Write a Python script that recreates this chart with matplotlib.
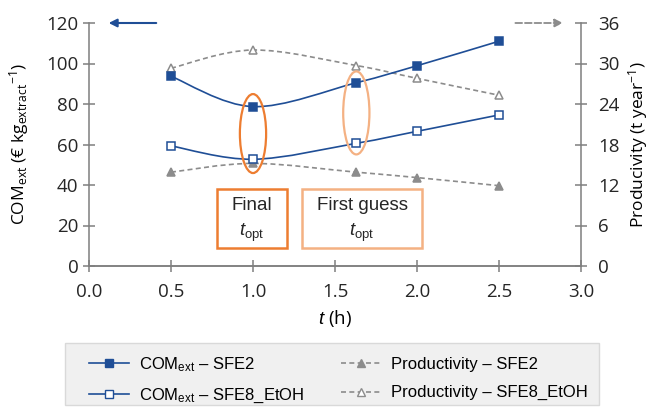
import numpy as np
import matplotlib
matplotlib.use("Agg")
import matplotlib.pyplot as plt
from matplotlib.path import Path
from matplotlib.patches import PathPatch, Ellipse, Rectangle
from matplotlib.lines import Line2D

# --------- Data ---------
t_h = [0.5, 1.0, 1.63, 2.0, 2.5]
com_sfe2 = [93.7, 78.7, 90.5, 98.9, 111.0]
com_sfe8 = [59.3, 52.7, 60.6, 66.5, 74.6]
prod_sfe2 = [13.9, 15.2, 13.9, 13.1, 11.9]
prod_sfe8 = [29.3, 32.0, 29.7, 27.8, 25.3]

final_t = 1.0
guess_t = 1.63

BLUE = "#1f4e96"
GRAY = "#8c8c8c"
AXIS = "#7f7f7f"
ORANGE = "#ed7d31"
LIGHT_ORANGE = "#f4b183"

plt.rcParams["font.family"] = ["Open Sans", "DejaVu Sans"]
plt.rcParams["mathtext.fontset"] = "custom"
plt.rcParams["mathtext.it"] = "Liberation Sans:italic"
plt.rcParams["mathtext.rm"] = "Liberation Sans"


def smooth_path(x, y):
    # Excel-like smoothed line: cubic Bezier through the points
    pts = np.column_stack([x, y])
    ext = np.vstack([pts[0], pts, pts[-1]])
    verts = [pts[0]]
    codes = [Path.MOVETO]
    for i in range(len(pts) - 1):
        p0, p1, p2, p3 = ext[i], ext[i + 1], ext[i + 2], ext[i + 3]
        verts += [p1 + (p2 - p0) / 6, p2 - (p3 - p1) / 6, p2]
        codes += [Path.CURVE4] * 3
    return Path(verts, codes)


def add_series(ax, x, y, color, ls, marker, filled):
    ax.add_patch(PathPatch(smooth_path(x, y), fill=False, edgecolor=color,
                           lw=1.2, ls=ls, zorder=3))
    ax.plot(x, y, ls="none", marker=marker, ms=6, mec=color, mew=1.1,
            mfc=color if filled else "white", zorder=4)


fig = plt.figure(figsize=(6.51, 4.07), dpi=100)
ax = fig.add_axes([89 / 651, 1 - 266 / 407, 492 / 651, 243 / 407])
ax2 = ax.twinx()

dash = (0, (3, 2))
add_series(ax2, t_h, prod_sfe8, GRAY, dash, "^", False)
add_series(ax2, t_h, prod_sfe2, GRAY, dash, "^", True)
add_series(ax, t_h, com_sfe2, BLUE, "-", "s", True)
add_series(ax, t_h, com_sfe8, BLUE, "-", "s", False)

ax.set_xlim(0, 3)
ax.set_ylim(0, 120)
ax2.set_ylim(0, 36)
ax.set_xticks(np.arange(0, 3.01, 0.5))
ax.set_xticklabels([f"{v:.1f}" for v in np.arange(0, 3.01, 0.5)])
ax.set_yticks(np.arange(0, 121, 20))
ax2.set_yticks(np.arange(0, 37, 6))

for a in (ax, ax2):
    a.spines["top"].set_visible(False)
    for s in a.spines.values():
        s.set_color(AXIS)
        s.set_linewidth(1.1)
    a.tick_params(direction="inout", length=9, width=1.1, color=AXIS,
                  labelsize=13.5, labelcolor="#262626")
ax.spines["right"].set_visible(False)
ax.tick_params(axis="y", pad=3)
ax.tick_params(axis="x", pad=8)
ax2.spines["left"].set_visible(False)
ax2.tick_params(axis="y", pad=8)
ax.set_zorder(ax2.get_zorder() + 1)
ax.patch.set_visible(False)

ax.set_xlabel(r"$\mathit{t}$ (h)", fontsize=13.5, labelpad=5)
ax.set_ylabel(r"COM$\mathregular{_{ext}}$ (€ kg$\mathregular{_{extract}{}^{-1}}$)",
              fontsize=12.5)
ax2.set_ylabel(r"Producivity (t year$\mathregular{^{-1}}$)", fontsize=12.5)
ax.yaxis.set_label_coords(-0.117, 0.5)
ax2.yaxis.set_label_coords(1.092, 0.5)

# axis hint arrows
ax.annotate("", xy=(0.12, 120), xytext=(0.41, 120), annotation_clip=False,
            arrowprops=dict(arrowstyle="-|>", color=BLUE, lw=1.5,
                            mutation_scale=12, shrinkA=0, shrinkB=0))
ax.annotate("", xy=(2.89, 120), xytext=(2.6, 120), annotation_clip=False,
            arrowprops=dict(arrowstyle="-|>", color=GRAY, lw=1.3, ls="--",
                            mutation_scale=12, shrinkA=0, shrinkB=0))

# optimum markers
ax.add_patch(Ellipse((final_t, 65.4), 0.16, 39, fill=False, ec=ORANGE,
                     lw=1.6, zorder=5))
ax.add_patch(Ellipse((guess_t, 75.6), 0.16, 41, fill=False, ec=LIGHT_ORANGE,
                     lw=1.6, zorder=5))

ax.add_patch(Rectangle((0.78, 8.9), 0.427, 29.1, fill=False, ec=ORANGE,
                       lw=1.8, zorder=5))
ax.add_patch(Rectangle((1.299, 8.9), 0.731, 29.1, fill=False,
                       ec=LIGHT_ORANGE, lw=1.8, zorder=5))
box_font = dict(family="Liberation Sans", fontsize=13.5, ha="center",
                va="center", color="#262626")
ax.text(0.993, 30, "Final", **box_font)
ax.text(0.993, 16.5, r"$\mathit{t}\mathregular{_{opt}}$", **box_font)
ax.text(1.665, 30, "First guess", **box_font)
ax.text(1.665, 16.5, r"$\mathit{t}\mathregular{_{opt}}$", **box_font)

# legend with Excel-like grey box
fig.patches.append(Rectangle((65 / 651, 1 - 405 / 407), 534 / 651, 62 / 407,
                             transform=fig.transFigure, fc="#f0f0f0",
                             ec="#d9d9d9", lw=1.0, zorder=0))
handles = [
    Line2D([], [], color=BLUE, lw=1.2, marker="s", ms=6, mfc=BLUE, mec=BLUE),
    Line2D([], [], color=BLUE, lw=1.2, marker="s", ms=6, mfc="white", mec=BLUE),
    Line2D([], [], color=GRAY, lw=1.2, ls=dash, marker="^", ms=6, mfc=GRAY, mec=GRAY),
    Line2D([], [], color=GRAY, lw=1.2, ls=dash, marker="^", ms=6, mfc="white", mec=GRAY),
]
labels = [r"COM$\mathregular{_{ext}}$ – SFE2",
          r"COM$\mathregular{_{ext}}$ – SFE8_EtOH",
          "Productivity – SFE2",
          "Productivity – SFE8_EtOH"]
fig.legend(handles, labels, ncol=2, frameon=False, loc="upper left",
           bbox_to_anchor=(89 / 651, 1 - 355 / 407),
           prop=dict(family="Liberation Sans", size=12), handlelength=2.4,
           handletextpad=0.6, columnspacing=2.2, labelspacing=0.8,
           borderaxespad=0, borderpad=0)

fig.savefig("out.png", dpi=100)
